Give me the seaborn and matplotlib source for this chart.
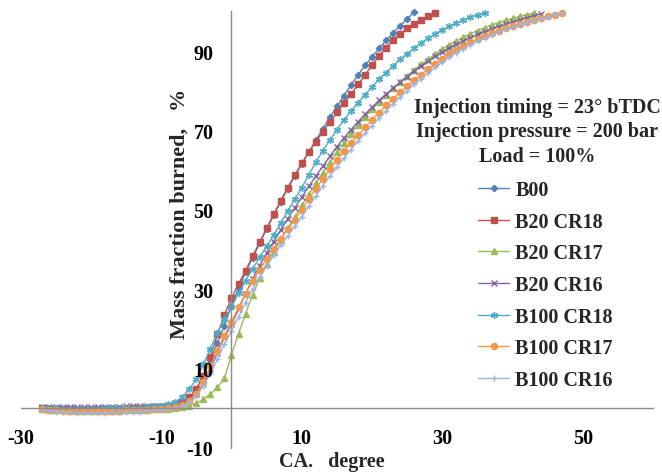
import numpy as np
import pandas as pd
import matplotlib
matplotlib.use("Agg")
import matplotlib.pyplot as plt
import seaborn as sns

sns.set_theme(style="white")
plt.rcParams['font.family'] = ['Liberation Serif', 'DejaVu Serif']
plt.rcParams['font.weight'] = 'bold'
plt.rcParams['axes.unicode_minus'] = False

# ---------------- data (crank angle starts at -27 deg, 1 deg steps) ----------------
CA_START = -27

series_names = ["B00", "B20 CR18", "B20 CR17", "B20 CR16",
                "B100 CR18", "B100 CR17", "B100 CR16"]

b00 = [0.0, -0.1, -0.2, -0.2, -0.3, -0.3, -0.3, -0.3, -0.3, -0.2, -0.2, -0.2, -0.1, -0.1, 0.0, 0.0, 0.1, 0.2, 0.3,
       0.6, 1.3, 2.6, 4.8, 8.0, 12.2, 16.4, 20.8, 25.8, 30.3, 34.2, 37.9, 41.5, 45.1, 48.6, 52.0, 55.3, 58.5,
       61.6, 64.6, 67.5, 70.4, 73.3, 76.1, 78.8, 81.4, 84.0, 86.4, 88.6, 90.7, 92.7, 94.6, 96.4, 98.2, 99.8]

b20_cr18 = [-0.1, -0.2, -0.3, -0.3, -0.3, -0.4, -0.4, -0.4, -0.3, -0.3, -0.3, -0.2, -0.2, -0.1, 0.0, 0.1, 0.2, 0.3, 0.5,
            1.0, 1.6, 2.7, 4.8, 8.1, 12.8, 18.6, 23.5, 27.8, 31.3, 34.6, 38.3, 41.8, 45.3, 48.9, 52.3, 55.6, 58.7,
            61.7, 64.5, 67.1, 69.7, 72.2, 74.6, 76.9, 79.1, 81.6, 84.0, 86.5, 88.8, 90.9, 92.8, 94.4, 95.8, 96.9,
            97.9, 98.8, 99.6]

b20_cr17 = [-0.2, -0.4, -0.5, -0.6, -0.7, -0.7, -0.8, -0.8, -0.8, -0.8, -0.7, -0.7, -0.6, -0.6, -0.5, -0.4, -0.3, -0.2, -0.2,
            -0.1, 0.2, 0.6, 1.2, 2.2, 3.5, 5.2, 7.5, 13.4, 18.8, 23.8, 28.5, 32.7, 36.3, 39.4, 42.4, 45.3, 48.2,
            51.1, 53.9, 56.7, 59.4, 62.0, 64.5, 66.9, 69.2, 71.4, 73.4, 75.3, 77.1, 78.9, 80.6, 82.2, 83.8, 85.3,
            86.7, 88.0, 89.3, 90.5, 91.6, 92.6, 93.5, 94.4, 95.2, 95.9, 96.6, 97.2, 97.8, 98.3, 98.8, 99.2, 99.6]

b20_cr16 = [0.2, 0.2, 0.3, 0.3, 0.3, 0.3, 0.3, 0.3, 0.3, 0.3, 0.3, 0.3, 0.4, 0.4, 0.4, 0.4, 0.5, 0.5, 0.6,
            0.8, 1.2, 2.0, 3.5, 6.0, 9.8, 14.0, 17.8, 21.2, 24.9, 28.8, 32.6, 35.9, 39.0, 42.0, 44.9, 47.7, 50.5,
            53.2, 55.9, 58.5, 61.0, 63.5, 65.9, 68.1, 70.2, 72.2, 74.1, 75.9, 77.6, 79.2, 80.7, 82.2, 83.6, 85.0,
            86.3, 87.5, 88.7, 89.8, 90.8, 91.7, 92.6, 93.4, 94.2, 94.9, 95.6, 96.2, 96.8, 97.3, 97.8, 98.4, 98.9,
            99.4]

b100_cr18 = [0.0, -0.1, -0.1, -0.2, -0.2, -0.2, -0.2, -0.2, -0.2, -0.1, -0.1, -0.1, 0.0, 0.0, 0.1, 0.2, 0.4, 0.6, 0.9,
             1.6, 2.7, 4.8, 7.3, 11.0, 15.0, 19.0, 22.4, 25.6, 28.9, 32.1, 35.1, 38.0, 40.8, 43.6, 46.6, 49.7, 52.6,
             55.6, 58.8, 62.0, 64.9, 67.6, 70.2, 72.6, 74.9, 77.0, 79.0, 81.0, 82.9, 84.6, 86.3, 87.9, 89.4, 90.8,
             92.1, 93.3, 94.4, 95.4, 96.3, 97.1, 97.9, 98.6, 99.1, 99.6]

b100_cr17 = [-0.3, -0.5, -0.6, -0.7, -0.8, -0.8, -0.8, -0.8, -0.8, -0.8, -0.7, -0.7, -0.6, -0.6, -0.5, -0.4, -0.3, -0.2, 0.0,
             0.3, 0.8, 1.8, 3.6, 6.5, 10.5, 14.5, 18.2, 21.8, 25.4, 28.8, 32.0, 34.9, 37.6, 40.2, 42.7, 45.1, 47.5,
             50.0, 52.7, 55.3, 57.8, 60.2, 62.5, 64.7, 66.8, 68.8, 70.8, 72.7, 74.5, 76.3, 78.0, 79.6, 81.2, 82.7,
             84.1, 85.5, 86.8, 88.0, 89.2, 90.3, 91.3, 92.2, 93.0, 93.8, 94.5, 95.2, 95.8, 96.4, 96.9, 97.4, 97.9,
             98.3, 98.8, 99.2, 99.6]

b100_cr16 = [-0.5, -0.7, -0.9, -1.0, -1.1, -1.2, -1.2, -1.2, -1.2, -1.2, -1.1, -1.1, -1.0, -1.0, -0.9, -0.8, -0.6, -0.4, -0.2,
             0.0, 0.4, 1.2, 3.0, 5.6, 8.6, 12.4, 16.1, 19.4, 23.0, 26.6, 30.0, 33.0, 35.8, 38.5, 41.0, 43.4, 45.8,
             48.3, 50.9, 53.5, 56.1, 58.5, 60.8, 63.0, 65.2, 67.3, 69.3, 71.2, 73.1, 74.9, 76.7, 78.4, 80.0, 81.6,
             83.1, 84.5, 85.9, 87.2, 88.4, 89.6, 90.6, 91.6, 92.5, 93.3, 94.1, 94.8, 95.5, 96.1, 96.7, 97.2, 97.7,
             98.2, 98.7, 99.1, 99.5]

series_values = [b00, b20_cr18, b20_cr17, b20_cr16, b100_cr18, b100_cr17, b100_cr16]

x_ticks = [-30, -10, 10, 30, 50]
y_ticks = [-10, 10, 30, 50, 70, 90]

colors = ["#4F81BD", "#C0504D", "#9BBB59", "#8064A2", "#4BACC6", "#F79646", "#9DB5DF"]
markers = ["D", "s", "^", "x", (6, 2, 0), "o", "+"]
msizes = [3.2, 4.2, 4.6, 4.0, 5.0, 4.4, 4.5]

# ---------------- figure ----------------
fig = plt.figure(figsize=(6.62, 4.77), dpi=100)
fig.patch.set_facecolor("white")
ax = fig.add_axes([0.0311, 0.0593, 0.9557, 0.9145])
ax.set_facecolor("none")

for name, vals, c, m, ms in zip(series_names, series_values, colors, markers, msizes):
    df = pd.DataFrame({"CA": np.arange(CA_START, CA_START + len(vals)), "MFB": vals})
    sns.lineplot(data=df, x="CA", y="MFB", ax=ax, color=c, marker=m, markersize=ms,
                 markeredgecolor=c, markerfacecolor=c, markeredgewidth=1.0,
                 linewidth=1.0, label=name, errorbar=None, clip_on=False, zorder=2)

ax.set_xlim(-30, 60)
ax.set_ylim(-10, 100)
ax.set_xticks(x_ticks)
ax.set_yticks(y_ticks)
ax.set_xlabel("")
ax.set_ylabel("")

for s in ["top", "right"]:
    ax.spines[s].set_visible(False)
ax.spines["left"].set_position(("data", 0))
ax.spines["bottom"].set_position(("data", 0))
for s in ["left", "bottom"]:
    ax.spines[s].set_color("#8C8C8C")
    ax.spines[s].set_linewidth(1.0)

ax.tick_params(axis="both", direction="out", length=4, width=1.0, color="#8C8C8C",
               labelsize=14.5, labelcolor="black")
ax.tick_params(axis="x", pad=10.5)
ax.tick_params(axis="y", pad=9)
for lab in ax.get_xticklabels() + ax.get_yticklabels():
    lab.set_fontweight("bold")
ax.xaxis.set_zorder(5)
ax.yaxis.set_zorder(5)

fig.text(180 / 662, 1 - 213.5 / 477, "Mass fraction burned,   %", rotation=90,
         ha="center", va="center", fontsize=16, fontweight="bold")
fig.text(332 / 662, 1 - 462 / 477, "CA.   degree", ha="center", va="center",
         fontsize=14.5, fontweight="bold")
fig.text(537 / 662, 1 - 132.5 / 477,
         "Injection timing = 23° bTDC\nInjection pressure = 200 bar\nLoad = 100%",
         ha="center", va="center", multialignment="center",
         fontsize=14.5, fontweight="bold", linespacing=1.32)

handles, labels = ax.get_legend_handles_labels()
ax.legend(handles, labels, loc="upper left", bbox_to_anchor=(478 / 662, 1 - 181 / 477),
          bbox_transform=fig.transFigure, frameon=False, borderpad=0, borderaxespad=0,
          handlelength=1.55, handletextpad=0.3, labelspacing=0.58,
          prop={"size": 14.5, "weight": "bold"})

fig.savefig("out.png", dpi=100, facecolor="white")
